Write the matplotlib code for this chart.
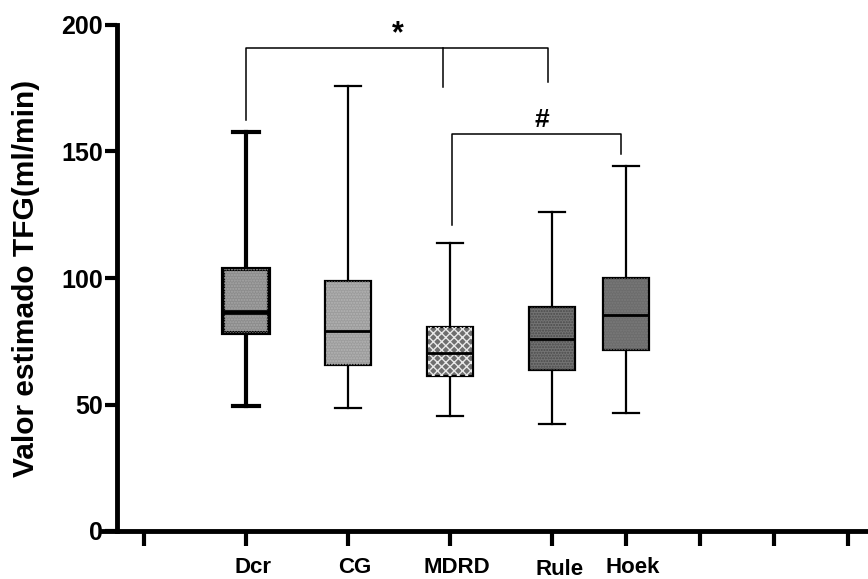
import numpy as np
import matplotlib
matplotlib.use("Agg")
import matplotlib.pyplot as plt
from matplotlib import rcParams

rcParams["font.family"] = ["Liberation Sans", "DejaVu Sans"]
rcParams["font.weight"] = "bold"

# data
groups = ["Dcr", "CG", "MDRD", "Rule", "Hoek"]
pos = [1, 2, 3, 4, 4.725]
v_min = [49.5, 48.7, 45.6, 42.2, 46.6]
v_q1 = [78.4, 65.5, 61.1, 63.6, 71.4]
v_med = [86.7, 79.0, 70.5, 75.9, 85.4]
v_q3 = [103.6, 98.8, 80.6, 88.5, 100.0]
v_max = [157.7, 175.9, 113.8, 126.0, 144.2]
colors = ["#8c8c8c", "#9c9c9c", "#6e6e6e", "#747474", "#6c6c6c"]
hatch_col = ["#a6a6a6", "#b4b4b4", "#e8e8e8", "#4a4a4a", "#7a7a7a"]
xticks = [0, 1, 2, 3, 4, 4.725, 5.45, 6.18, 6.9]
yticks = [0, 50, 100, 150, 200]

fig = plt.figure(figsize=(8.68, 5.79), dpi=100, facecolor="white")
ax = fig.add_axes([103 / 868, 48 / 579, 765 / 868, 506 / 579])
ax.set_xlim(-0.402, 7.098)
ax.set_ylim(0, 200)

stats = []
for i in range(len(groups)):
    stats.append({"whislo": v_min[i], "q1": v_q1[i], "med": v_med[i],
                  "q3": v_q3[i], "whishi": v_max[i], "fliers": [], "label": groups[i]})

for i in range(len(groups)):
    lw = 3.0 if i == 0 else 1.6
    b = ax.bxp([stats[i]], positions=[pos[i]], widths=0.45, patch_artist=True,
               showfliers=False, manage_ticks=False,
               boxprops=dict(facecolor=colors[i], edgecolor="black", linewidth=lw),
               medianprops=dict(color="black", linewidth=lw + 0.4),
               whiskerprops=dict(color="black", linewidth=lw),
               capprops=dict(color="black", linewidth=lw), capwidths=0.25)
    # fine texture on top of the fill
    ax.bxp([stats[i]], positions=[pos[i]], widths=0.43, patch_artist=True,
           showfliers=False, manage_ticks=False, showcaps=False,
           boxprops=dict(facecolor="none", edgecolor=hatch_col[i], linewidth=0,
                         hatch="xxxx" if i == 2 else "......"),
           medianprops=dict(linewidth=0), whiskerprops=dict(linewidth=0))
    b["medians"][0].set_zorder(4)

# spines
for s in ["top", "right"]:
    ax.spines[s].set_visible(False)
ax.spines["left"].set_position(("data", -0.265))
ax.spines["left"].set_bounds(0, 200)
ax.spines["left"].set_linewidth(3.5)
ax.spines["bottom"].set_linewidth(3.5)

ax.set_yticks(yticks)
ax.set_yticklabels([str(t) for t in yticks], fontsize=18, fontweight="bold")
ax.tick_params(axis="y", length=9, width=3, pad=1)
ax.set_xticks(xticks)
ax.set_xticklabels([""] * len(xticks))
ax.tick_params(axis="x", length=11, width=3)

for i, g in enumerate(groups):
    dy = -1.0 if g == "Rule" else 0
    ax.text(pos[i] + 0.07, -14.3 + dy, g, ha="center", va="center",
            fontsize=16, fontweight="bold", clip_on=False)

ax.set_ylabel("Valor estimado TFG(ml/min)", fontsize=21.5, fontweight="bold")
ax.yaxis.set_label_coords(-0.083, 0.5)

# significance brackets
ax.plot([1, 1, 3.96, 3.96], [162.5, 191, 191, 177.5], color="black", lw=1.1)
ax.plot([2.93, 2.93], [191, 175.5], color="black", lw=1.1)
ax.text(2.49, 196.5, "*", ha="center", va="center", fontsize=22, fontweight="bold")
ax.plot([3.02, 3.02, 4.68, 4.68], [121, 157, 157, 149], color="black", lw=1.1)
ax.text(3.9, 162.5, "#", ha="center", va="center", fontsize=19, fontweight="bold")

fig.savefig("out.png", dpi=100, facecolor="white")
